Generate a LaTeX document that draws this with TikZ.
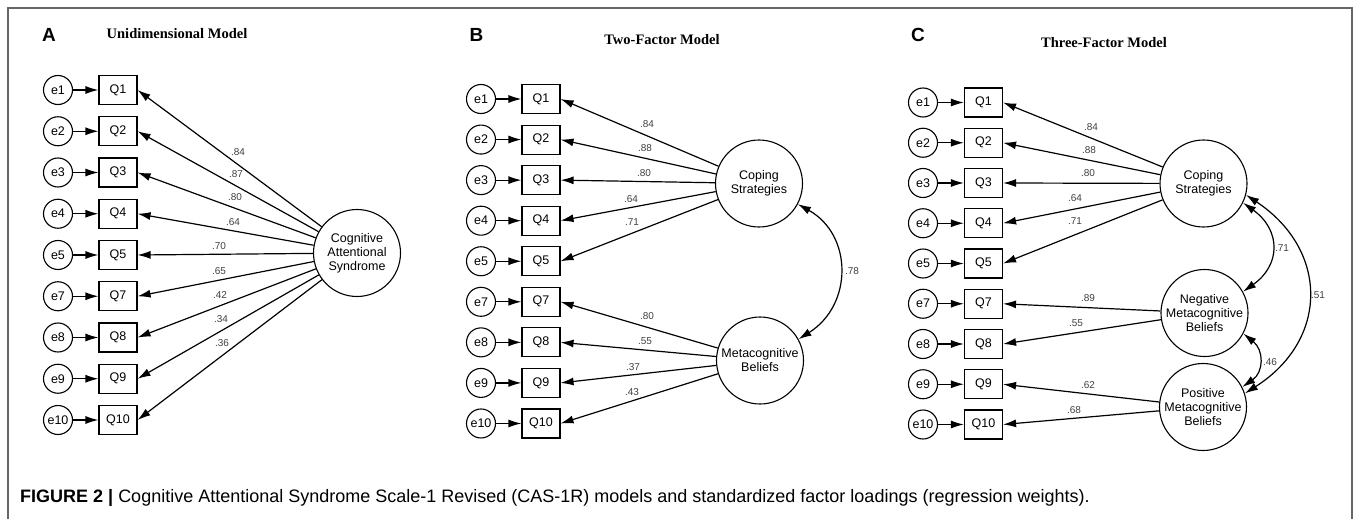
\documentclass[tikz,border=0pt]{standalone}
\usepackage{fontspec}
\setmainfont{Liberation Sans}
\newfontfamily\tnr{Liberation Serif}
\usetikzlibrary{arrows.meta}
\begin{document}
\begin{tikzpicture}[x=1pt,y=-1pt,
  err/.style={circle,draw,line width=1.1pt,minimum size=29pt,inner sep=0pt,font=\fontsize{12.5}{14}\selectfont},
  obs/.style={rectangle,draw,line width=1.1pt,minimum width=38pt,minimum height=29pt,inner sep=0pt,font=\fontsize{12.5}{14}\selectfont},
  lat/.style={circle,draw,line width=1.1pt,minimum size=87pt,inner sep=0pt,align=center,font=\fontsize{12.5}{14}\selectfont},
  arr/.style={line width=1.2pt,-{Latex[length=13pt,width=8pt]}},
  cov/.style={line width=1.2pt,{Latex[length=13pt,width=8pt]}-{Latex[length=13pt,width=8pt]}},
  coef/.style={font=\fontsize{10}{12}\selectfont,text=black!75,inner sep=0pt},
  panel/.style={font=\fontsize{19}{22}\selectfont\bfseries},
  ttl/.style={font=\fontsize{14.5}{17}\selectfont\tnr\bfseries},
  frame/.style={line width=1.5pt,draw=black!60}]
\useasboundingbox (0,0) rectangle (1358,519);
% frame
\coordinate (fbl) at (8,519);
\coordinate (ftl) at (8,8);
\coordinate (ftr) at (1352,8);
\coordinate (fbr) at (1352,519);
\draw[frame] (fbl) -- (ftl) -- (ftr) -- (fbr);

% ---------------- Panel A ----------------
\node[panel] (pA) at (49,35) {A};
\node[ttl] (tA) at (177,34) {Unidimensional Model};
\foreach \lab/\i in {1/0,2/1,3/2,4/3,5/4,7/5,8/6,9/7,10/8}{
  \node[err] (Ae\lab) at (58,{90+41.25*\i}) {e\lab};
  \node[obs] (AQ\lab) at (118,{90+41.25*\i}) {Q\lab};
  \draw[arr] (Ae\lab) -- (AQ\lab);
}
\node[lat] (CAS) at (357,253) {Cognitive\\Attentional\\Syndrome};
\foreach \lab in {1,2,3,4,5,7,8,9,10}{
  \draw[arr] (CAS) -- (AQ\lab.east);
}
\node[coef] (ca1) at (238,152) {.84};
\node[coef] (ca2) at (236,174) {.87};
\node[coef] (ca3) at (235,197) {.80};
\node[coef] (ca4) at (233,222) {.64};
\node[coef] (ca5) at (219,246) {.70};
\node[coef] (ca7) at (219,271) {.65};
\node[coef] (ca8) at (220,295) {.42};
\node[coef] (ca9) at (221,319) {.34};
\node[coef] (ca10) at (222,343) {.36};

% ---------------- Panel B ----------------
\node[panel] (pB) at (476.5,35) {B};
\node[ttl] (tB) at (662,40) {Two-Factor Model};
\foreach \lab/\i in {1/0,2/1,3/2,4/3,5/4,7/5,8/6,9/7,10/8}{
  \node[err] (Be\lab) at (481,{99+40.56*\i}) {e\lab};
  \node[obs] (BQ\lab) at (541,{99+40.56*\i}) {Q\lab};
  \draw[arr] (Be\lab) -- (BQ\lab);
}
\node[lat] (BCS) at (759,183.5) {Coping\\Strategies};
\node[lat] (BMB) at (760,360.5) {Metacognitive\\Beliefs};
\foreach \lab in {1,2,3,4,5}{ \draw[arr] (BCS) -- (BQ\lab.east); }
\foreach \lab in {7,8,9,10}{ \draw[arr] (BMB) -- (BQ\lab.east); }
\draw[cov] (BCS.-28) .. controls (853,235) and (853,305) .. (BMB.29);
\node[coef] (cb1) at (647,124) {.84};
\node[coef] (cb2) at (645,148) {.88};
\node[coef] (cb3) at (644,173) {.80};
\node[coef] (cb4) at (631,199) {.64};
\node[coef] (cb5) at (632,222) {.71};
\node[coef] (cb7) at (647,316) {.80};
\node[coef] (cb8) at (645,341) {.55};
\node[coef] (cb9) at (633,367) {.37};
\node[coef] (cb10) at (632,392) {.43};
\node[coef] (cbr) at (852,271) {.78};

% ---------------- Panel C ----------------
\node[panel] (pC) at (918,35) {C};
\node[ttl] (tC) at (1104,43) {Three-Factor Model};
\foreach \lab/\i in {1/0,2/1,3/2,4/3,5/4,7/5,8/6,9/7,10/8}{
  \node[err] (Ce\lab) at (923,{102.5+40.25*\i}) {e\lab};
  \node[obs] (CQ\lab) at (983.5,{102.5+40.25*\i}) {Q\lab};
  \draw[arr] (Ce\lab) -- (CQ\lab);
}
\node[lat] (CCS) at (1203.5,183.5) {Coping\\Strategies};
\node[lat] (CNB) at (1204.5,313) {Negative\\Metacognitive\\Beliefs};
\node[lat] (CPB) at (1203,407) {Positive\\Metacognitive\\Beliefs};
\foreach \lab in {1,2,3,4,5}{ \draw[arr] (CCS) -- (CQ\lab.east); }
\foreach \lab in {7,8}{ \draw[arr] (CNB) -- (CQ\lab.east); }
\foreach \lab in {9,10}{ \draw[arr] (CPB) -- (CQ\lab.east); }
\draw[cov] (CCS.-26) .. controls (1281,230) and (1281,265) .. (CNB.29);
\draw[cov] (CCS.-15) .. controls (1329,250) and (1329,340) .. (CPB.18);
\draw[cov] (CNB.-28) .. controls (1264,350) and (1264,372) .. (CPB.27);
\node[coef] (cc1) at (1091,127) {.84};
\node[coef] (cc2) at (1089,150) {.88};
\node[coef] (cc3) at (1088,173) {.80};
\node[coef] (cc4) at (1075,198) {.64};
\node[coef] (cc5) at (1075,221) {.71};
\node[coef] (cc7) at (1088,298) {.89};
\node[coef] (cc8) at (1076,323) {.55};
\node[coef] (cc9) at (1088,385) {.62};
\node[coef] (cc10) at (1074,410) {.68};
\node[coef] (ccr1) at (1282,248) {.71};
\node[coef] (ccr2) at (1318,295) {.51};
\node[coef] (ccr3) at (1270,362) {.46};

% caption
\node[anchor=west,inner sep=0pt,font=\fontsize{18}{21}\selectfont] (cap) at (20,498)
  {\textbf{FIGURE 2 |} Cognitive Attentional Syndrome Scale-1 Revised (CAS-1R) models and standardized factor loadings (regression weights).};
\end{tikzpicture}
\end{document}
